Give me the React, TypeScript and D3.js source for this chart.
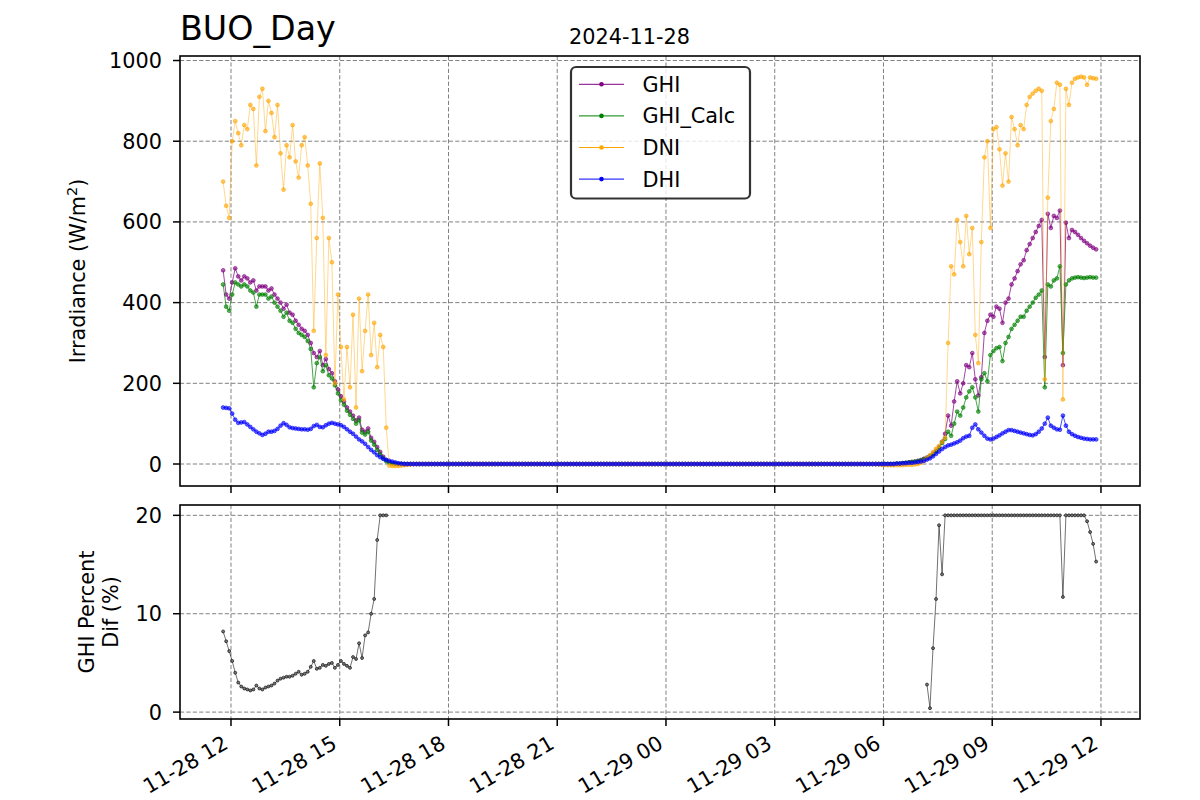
import React from "react";
import * as d3 from "d3";

// ---- time grid: 2024-11-28 11:47, every 5 minutes (minutes since 11-28 00:00)
const START_MIN = 707;
const STEP_MIN = 5;
const PCT1_START_MIN = 707;
const PCT2_START_MIN = 1872;

const xTickMinutes = [720, 900, 1080, 1260, 1440, 1620, 1800, 1980, 2160];
const xTickLabels = ["11-28 12", "11-28 15", "11-28 18", "11-28 21", "11-29 00", "11-29 03", "11-29 06", "11-29 09", "11-29 12"];
const irrTicks = [0, 200, 400, 600, 800, 1000];
const pctTicks = [0, 10, 20];

const seriesNames = ["GHI", "GHI_Calc", "DNI", "DHI"];
const seriesColors = ["#800080", "#008000", "#FFA500", "#0000FF"];

const ghi = [
  480,420,410,450,485,465,455,465,460,450,455,430,
  440,440,440,430,435,420,410,400,385,395,375,370,
  355,345,335,330,320,300,275,265,280,245,260,235,
  225,205,185,168,155,140,130,120,108,115,85,80,
  88,65,55,42,30,18,10,5,2,1,0,0,
  0,0,0,0,0,0,0,0,0,0,0,0,
  0,0,0,0,0,0,0,0,0,0,0,0,
  0,0,0,0,0,0,0,0,0,0,0,0,
  0,0,0,0,0,0,0,0,0,0,0,0,
  0,0,0,0,0,0,0,0,0,0,0,0,
  0,0,0,0,0,0,0,0,0,0,0,0,
  0,0,0,0,0,0,0,0,0,0,0,0,
  0,0,0,0,0,0,0,0,0,0,0,0,
  0,0,0,0,0,0,0,0,0,0,0,0,
  0,0,0,0,0,0,0,0,0,0,0,0,
  0,0,0,0,0,0,0,0,0,0,0,0,
  0,0,0,0,0,0,0,0,0,0,0,0,
  0,0,0,0,0,0,0,0,0,0,0,0,
  0,0,0,0,0,0,0,1,1,2,3,4,
  5,6,8,10,13,16,20,26,33,42,55,75,
  120,95,155,205,175,200,245,240,275,210,170,215,
  325,355,370,365,390,385,350,400,410,445,460,478,
  495,505,530,545,560,575,590,605,265,620,585,615,
  610,628,245,598,560,580,575,568,560,553,547,541,
  536,532,
];

const ghiCalc = [
  445,390,380,420,450,445,440,445,440,430,425,390,
  420,420,420,410,415,400,390,380,365,375,355,350,
  335,325,320,315,305,285,190,250,265,230,245,220,
  212,195,175,158,147,132,122,112,100,108,78,73,
  80,58,48,35,24,14,7,3,1,0,0,0,
  0,0,0,0,0,0,0,0,0,0,0,0,
  0,0,0,0,0,0,0,0,0,0,0,0,
  0,0,0,0,0,0,0,0,0,0,0,0,
  0,0,0,0,0,0,0,0,0,0,0,0,
  0,0,0,0,0,0,0,0,0,0,0,0,
  0,0,0,0,0,0,0,0,0,0,0,0,
  0,0,0,0,0,0,0,0,0,0,0,0,
  0,0,0,0,0,0,0,0,0,0,0,0,
  0,0,0,0,0,0,0,0,0,0,0,0,
  0,0,0,0,0,0,0,0,0,0,0,0,
  0,0,0,0,0,0,0,0,0,0,0,0,
  0,0,0,0,0,0,0,0,0,0,0,0,
  0,0,0,0,0,0,0,0,0,0,0,0,
  0,0,0,0,0,0,0,1,1,2,3,4,
  5,6,7,9,12,15,19,24,31,40,52,62,
  80,70,100,130,120,140,165,180,190,165,130,210,
  225,205,270,280,287,290,255,300,315,335,345,355,
  365,365,380,390,400,412,420,430,190,445,440,455,
  460,490,275,445,455,460,462,463,462,461,462,463,
  462,462,
];

const dni = [
  700,640,610,800,850,820,790,840,830,890,880,740,
  910,930,825,900,870,810,890,770,680,790,760,840,
  750,710,790,810,740,645,330,560,745,610,270,560,
  500,200,420,290,160,290,190,370,140,410,230,330,
  420,270,350,240,320,290,90,-4,-5,-5,-5,-4,
  -3,-2,-1,0,0,0,0,0,0,0,0,0,
  0,0,0,0,0,0,0,0,0,0,0,0,
  0,0,0,0,0,0,0,0,0,0,0,0,
  0,0,0,0,0,0,0,0,0,0,0,0,
  0,0,0,0,0,0,0,0,0,0,0,0,
  0,0,0,0,0,0,0,0,0,0,0,0,
  0,0,0,0,0,0,0,0,0,0,0,0,
  0,0,0,0,0,0,0,0,0,0,0,0,
  0,0,0,0,0,0,0,0,0,0,0,0,
  0,0,0,0,0,0,0,0,0,0,0,0,
  0,0,0,0,0,0,0,0,0,0,0,0,
  0,0,0,0,0,0,0,0,0,0,0,0,
  0,0,0,0,0,0,0,0,0,0,0,0,
  0,-1,-2,-2,-3,-3,-3,-3,-3,-3,-2,-2,
  -2,-1,0,3,8,15,22,30,38,45,55,65,
  300,490,470,605,550,490,615,520,585,320,250,550,
  760,800,585,830,835,780,690,770,700,860,830,790,
  840,830,890,910,918,925,930,925,210,660,850,880,
  945,940,160,930,890,945,955,958,960,958,940,958,
  956,955,
];

const dhi = [
  140,139,138,125,110,102,103,104,98,92,86,80,
  76,72,75,80,80,82,87,95,101,97,91,89,
  88,87,86,86,85,87,94,97,92,91,96,100,
  102,100,98,96,92,86,80,75,68,61,56,50,
  42,35,29,22,17,13,10,8,6,4,2,1,
  0,0,0,0,0,0,0,0,0,0,0,0,
  0,0,0,0,0,0,0,0,0,0,0,0,
  0,0,0,0,0,0,0,0,0,0,0,0,
  0,0,0,0,0,0,0,0,0,0,0,0,
  0,0,0,0,0,0,0,0,0,0,0,0,
  0,0,0,0,0,0,0,0,0,0,0,0,
  0,0,0,0,0,0,0,0,0,0,0,0,
  0,0,0,0,0,0,0,0,0,0,0,0,
  0,0,0,0,0,0,0,0,0,0,0,0,
  0,0,0,0,0,0,0,0,0,0,0,0,
  0,0,0,0,0,0,0,0,0,0,0,0,
  0,0,0,0,0,0,0,0,0,0,0,0,
  0,0,0,0,0,0,0,0,0,0,0,0,
  0,0,0,0,0,0,0,1,1,2,2,3,
  3,4,5,6,8,11,14,19,25,31,37,42,
  46,48,51,54,58,64,68,70,90,98,86,78,
  70,63,61,63,67,71,76,80,84,84,82,80,
  78,76,74,72,71,74,80,88,100,115,95,90,
  86,85,120,95,80,74,70,67,65,63,62,61,
  61,61,
];

const pctDifDay1 = [
  8.2,7.2,6.2,5.2,4.0,3.0,2.6,2.4,2.3,2.2,2.3,2.7,
  2.4,2.3,2.5,2.6,2.7,2.9,3.2,3.4,3.5,3.6,3.6,3.7,
  3.9,4.1,3.8,3.9,4.1,4.6,5.2,4.4,4.5,4.8,4.7,4.9,
  5.0,4.5,4.8,5.2,4.9,4.7,4.5,5.6,5.4,7.0,5.5,7.8,
  8.1,10.0,11.5,17.5,20,20,20,
];

const pctDifDay2 = [
  2.8,0.4,6.5,11.5,19.0,14.0,20,
  20,20,20,20,20,20,20,20,20,20,20,20,
  20,20,20,20,20,20,20,20,20,20,20,20,
  20,20,20,20,20,20,20,20,20,20,20,20,
  20,20,11.7,20,20,20,20,20,20,20,19.4,18.3,
  17.1,15.3,
];

const irrSeries = [ghi, ghiCalc, dni, dhi];

const FONT = "'DejaVu Sans', 'Liberation Sans', sans-serif";
const FS = 20.8;

const L = 180, R = 1140;
const T1 = 56, B1 = 486, T2 = 505, B2 = 719;

export default function App() {
  const x = d3.scaleLinear().domain([635.6, 2224.6]).range([L, R]);
  const y1 = d3.scaleLinear().domain([-54.5, 1011.2]).range([B1, T1]);
  const y2 = d3.scaleLinear().domain([-0.65, 21.0]).range([B2 - 0.5, T2 + 0.5]);

  const line = d3.line<[number, number]>().x((d) => d[0]).y((d) => d[1]);

  const irrPts = irrSeries.map((vals) =>
    vals.map((v, i) => [x(START_MIN + i * STEP_MIN), y1(v)] as [number, number])
  );
  const pctSegs = [
    pctDifDay1.map((v, i) => [x(PCT1_START_MIN + i * STEP_MIN), y2(v)] as [number, number]),
    pctDifDay2.map((v, i) => [x(PCT2_START_MIN + i * STEP_MIN), y2(v)] as [number, number]),
  ];

  const gridStyle = { stroke: "#808080", strokeWidth: 1, strokeDasharray: "4.2,2.2" };

  return (
    <svg width={1200} height={800} style={{ display: "block", position: "absolute", left: 0, top: 0, background: "#fff" }} fontFamily={FONT}>
      <rect x={0} y={0} width={1200} height={800} fill="#fff" />
      <defs>
        <clipPath id="clipTop"><rect x={L} y={T1} width={R - L} height={B1 - T1} /></clipPath>
        <clipPath id="clipBot"><rect x={L} y={T2} width={R - L} height={B2 - T2} /></clipPath>
      </defs>

      {/* titles */}
      <text x={L} y={40} fontSize={33.3} fill="#000">BUO_Day</text>
      <text x={629.5} y={43.5} fontSize={FS} textAnchor="middle" fill="#000">2024-11-28</text>

      {/* ---------- top axes ---------- */}
      <g>
        {xTickMinutes.map((t) => (
          <line key={"gx1" + t} x1={x(t)} x2={x(t)} y1={T1} y2={B1} {...gridStyle} />
        ))}
        {irrTicks.map((v) => (
          <line key={"gy1" + v} x1={L} x2={R} y1={y1(v)} y2={y1(v)} {...gridStyle} />
        ))}
        <g clipPath="url(#clipTop)">
          {irrPts.map((pts, k) => (
            <g key={"s" + k}>
              <path d={line(pts) || ""} fill="none" stroke={seriesColors[k]} strokeWidth={0.8} strokeOpacity={k === 2 ? 0.55 : 0.9} />
              {pts.map((p, i) => (
                <circle key={i} cx={p[0]} cy={p[1]} r={1.9} fill={seriesColors[k]} fillOpacity={0.6} stroke={seriesColors[k]} strokeWidth={0.6} />
              ))}
            </g>
          ))}
        </g>
        <rect x={L} y={T1} width={R - L} height={B1 - T1} fill="none" stroke="#000" strokeWidth={1.6} />
        {xTickMinutes.map((t) => (
          <line key={"tx1" + t} x1={x(t)} x2={x(t)} y1={B1} y2={B1 + 7} stroke="#000" strokeWidth={1.5} />
        ))}
        {irrTicks.map((v) => (
          <g key={"ty1" + v}>
            <line x1={L - 7} x2={L} y1={y1(v)} y2={y1(v)} stroke="#000" strokeWidth={1.5} />
            <text x={L - 18} y={y1(v) + 7.5} fontSize={FS} textAnchor="end" fill="#000">{v}</text>
          </g>
        ))}
        <text transform={`translate(85,${(T1 + B1) / 2}) rotate(-90)`} fontSize={FS} textAnchor="middle" fill="#000">
          Irradiance (W/m<tspan fontSize={14.5} dy={-8}>2</tspan><tspan dy={8}>)</tspan>
        </text>

        {/* legend */}
        <g>
          <rect x={571} y={67} width={179} height={131.5} rx={5} ry={5} fill="#fff" fillOpacity={0.8} stroke="#000" strokeOpacity={0.8} strokeWidth={2.2} />
          {seriesNames.map((name, k) => {
            const ly = 84.3 + k * 31.6;
            return (
              <g key={name}>
                <line x1={579} x2={624} y1={ly} y2={ly} stroke={seriesColors[k]} strokeWidth={1} />
                <circle cx={601.5} cy={ly} r={2.3} fill={seriesColors[k]} />
                <text x={642.5} y={ly + 7.5} fontSize={FS} fill="#000">{name}</text>
              </g>
            );
          })}
        </g>
      </g>

      {/* ---------- bottom axes ---------- */}
      <g>
        {xTickMinutes.map((t) => (
          <line key={"gx2" + t} x1={x(t)} x2={x(t)} y1={T2} y2={B2} {...gridStyle} />
        ))}
        {pctTicks.map((v) => (
          <line key={"gy2" + v} x1={L} x2={R} y1={y2(v)} y2={y2(v)} {...gridStyle} />
        ))}
        <g clipPath="url(#clipBot)">
          {pctSegs.map((pts, k) => (
            <g key={"p" + k}>
              <path d={line(pts) || ""} fill="none" stroke="#000" strokeWidth={0.7} strokeOpacity={0.8} />
              {pts.map((p, i) => (
                <circle key={i} cx={p[0]} cy={p[1]} r={1.5} fill="#777" stroke="#000" strokeWidth={0.6} />
              ))}
            </g>
          ))}
        </g>
        <rect x={L} y={T2} width={R - L} height={B2 - T2} fill="none" stroke="#000" strokeWidth={1.6} />
        {pctTicks.map((v) => (
          <g key={"ty2" + v}>
            <line x1={L - 7} x2={L} y1={y2(v)} y2={y2(v)} stroke="#000" strokeWidth={1.5} />
            <text x={L - 18} y={y2(v) + 7.5} fontSize={FS} textAnchor="end" fill="#000">{v}</text>
          </g>
        ))}
        {xTickMinutes.map((t, i) => (
          <g key={"tx2" + t}>
            <line x1={x(t)} x2={x(t)} y1={B2} y2={B2 + 7} stroke="#000" strokeWidth={1.5} />
            <text transform={`translate(${x(t) - 1.5},${747.5}) rotate(-30)`} fontSize={FS} textAnchor="end" fill="#000">
              {xTickLabels[i]}
            </text>
          </g>
        ))}
        <text transform={`translate(94,${(T2 + B2) / 2}) rotate(-90)`} fontSize={FS} textAnchor="middle" fill="#000">GHI Percent</text>
        <text transform={`translate(118,${(T2 + B2) / 2}) rotate(-90)`} fontSize={FS} textAnchor="middle" fill="#000">Dif (%)</text>
      </g>
    </svg>
  );
}
